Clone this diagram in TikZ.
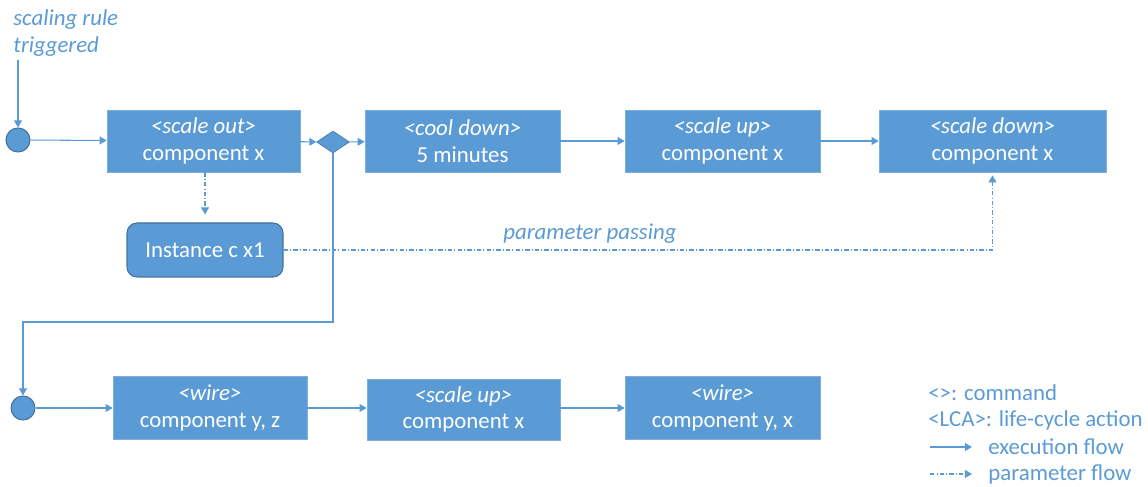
\documentclass[tikz,border=0pt]{standalone}
\usepackage{fontspec}
\setmainfont{Carlito}
\usepackage{tikz}
\usetikzlibrary{arrows.meta,shapes.geometric}
\definecolor{boxblue}{HTML}{5B9BD5}
\definecolor{edgeblue}{HTML}{41719C}

\begin{document}
\begin{tikzpicture}[
  font=\fontsize{13}{15}\selectfont,
  flow/.style={draw=boxblue, line width=0.6pt, -{Triangle[width=4.5pt,length=4pt]}},
  param/.style={flow, dash pattern=on 2.5pt off 1.2pt on 0.6pt off 1.2pt},
  act/.style={rectangle, fill=boxblue, draw=boxblue!80!white, text=white,
    align=center, inner sep=0pt, minimum height=1.24cm},
  dot/.style={circle, fill=boxblue, draw=edgeblue, line width=0.6pt,
    minimum size=0.48cm, inner sep=0pt},
  note/.style={text=boxblue, align=left, inner sep=0pt}
]
\useasboundingbox (0,0) rectangle (22.96,-9.74);

% Disparo
\node[note, anchor=west] (trig) at (0.26,-0.66) {\textit{scaling rule}\\\textit{triggered}};
\coordinate (top) at (0.36,-1.2);
\node[dot] (start) at (0.36,-2.8) {};

% Fila superior
\node[act, minimum width=3.86cm] (scaleout) at (4.07,-2.82)
  {\textit{<scale out>}\\component x};
\node[diamond, fill=boxblue, draw=edgeblue!70!boxblue, line width=0.4pt,
  minimum width=0.66cm, minimum height=0.44cm, inner sep=0pt] (fork) at (6.66,-2.84) {};
\node[act, minimum width=3.9cm] (cooldown) at (9.25,-2.82)
  {\textit{<cool down>}\\5 minutes};
\node[act, minimum width=3.9cm] (scaleup) at (14.45,-2.82)
  {\textit{<scale up>}\\component x};
\node[act, minimum width=4.54cm] (scaledown) at (19.85,-2.82)
  {\textit{<scale down>}\\component x};

\draw[flow] (top) -- (start.north);
\draw[flow] (start) -- (scaleout);
\draw[flow] (scaleout) -- (fork);
\draw[flow] (fork) -- (cooldown);
\draw[flow] (cooldown) -- (scaleup);
\draw[flow] (scaleup) -- (scaledown);

% Instancia y paso de parametros
\node[act, rounded corners=0.2cm, draw=edgeblue, line width=0.6pt,
  minimum width=3.12cm, minimum height=1.08cm] (inst) at (4.1,-5.0) {Instance c x1};
\draw[param, shorten >=0.16cm] (scaleout.south -| inst.north) -- (inst.north);
\draw[param, shorten >=0.06cm] (inst.east) -| (scaledown.south);
\node[note] (pass) at (11.8,-4.68) {\textit{parameter passing}};

% Fila inferior
\node[dot] (start2) at (0.46,-8.16) {};
\coordinate (turn) at (6.66,-6.44);
\draw[flow] (fork.south) -- (turn) -| (start2.north);

\node[act, minimum width=3.88cm, minimum height=1.26cm] (wireyz) at (4.2,-8.16)
  {\textit{<wire>}\\component y, z};
\node[act, minimum width=3.86cm, minimum height=1.22cm] (scaleup2) at (9.27,-8.19)
  {\textit{<scale up>}\\component x};
\node[act, minimum width=3.9cm, minimum height=1.26cm] (wireyx) at (14.45,-8.16)
  {\textit{<wire>}\\component y, x};

\draw[flow] (start2) -- (wireyz);
\draw[flow] (wireyz.east) -- (wireyz.east -| scaleup2.west);
\draw[flow] (scaleup2.east |- wireyx.west) -- (wireyx.west);

% Leyenda
\node[note, anchor=west] (leg1) at (18.56,-7.86) {<>: command};
\node[note, anchor=west] (leg2) at (18.56,-8.4) {<LCA>: life-cycle action};
\node[note, anchor=west] (leg3) at (19.76,-8.94) {execution flow};
\node[note, anchor=west] (leg4) at (19.76,-9.48) {parameter flow};
\coordinate (e1) at (18.6,-8.94);
\coordinate (e2) at (19.44,-8.94);
\coordinate (p1) at (18.6,-9.48);
\coordinate (p2) at (19.44,-9.48);
\draw[flow] (e1) -- (e2);
\draw[param] (p1) -- (p2);

\end{tikzpicture}
\end{document}
